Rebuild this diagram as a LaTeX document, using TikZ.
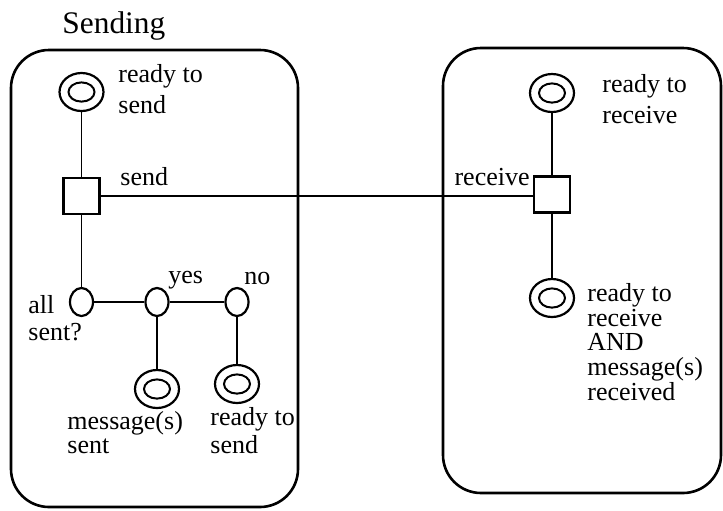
\documentclass[tikz,border=0pt]{standalone}
\usepackage{fontspec}
\setmainfont{Liberation Serif}
\usetikzlibrary{shapes.geometric,positioning}

\tikzset{
  statenode/.style={ellipse,draw,line width=1.1pt,inner sep=0pt,
    minimum width=22pt,minimum height=19pt,
    path picture={\draw[line width=1pt] (path picture bounding box.center) ellipse (6.5pt and 4.8pt);}},
  choice/.style={ellipse,draw,line width=1.1pt,inner sep=0pt,
    minimum width=11.5pt,minimum height=14pt},
  act/.style={rectangle,draw,line width=1.2pt,inner sep=0pt,minimum size=18pt,fill=white},
  lbl/.style={anchor=base west,inner sep=0pt,align=left,font=\fontsize{13}{15.5}\selectfont},
  arc/.style={line width=0.65pt},
  frame/.style={line width=1.3pt,rounded corners=19pt}
}

\begin{document}
\begin{tikzpicture}[x=0.5pt,y=-0.5pt]
\useasboundingbox (0,0) rectangle (723,510);

% the two sides
\draw[frame] (11,50) rectangle (298,507);
\draw[frame] (443,48) rectangle (721,493);
\node (title) [lbl,font=\fontsize{15.7}{18}\selectfont] at (62,33) {Sending};

% sending side
\node (rs1) [statenode] at (81.5,92) {};
\node (send) [act] at (81.5,196) {};
\node (d1) [choice] at (81.5,302) {};
\node (d2) [choice] at (157,302) {};
\node (d3) [choice] at (237,302) {};
\node (ms) [statenode] at (157,389) {};
\node (rs2) [statenode] at (237,384) {};

% receiving side
\node (rr1) [statenode] at (552,93) {};
\node (recv) [act] at (552,194.5) {};
\node (rr2) [statenode] at (552,298) {};

\draw[arc] (rs1) -- (send);
\draw[arc] (send) -- (d1);
\draw[arc] (d1) -- (d2) -- (d3);
\draw[arc] (d2) -- (ms);
\draw[arc] (d3) -- (rs2);
\draw[arc] (rr1) -- (recv);
\draw[arc] (recv) -- (rr2);
\draw[line width=1pt] (send.east) -- (send.east -| recv.west);

% labels (base = last line)
\node (lrs1) [lbl] at (118,113) {ready to\\send};
\node (lsend) [lbl] at (120,185) {send};
\node (ld1) [lbl,font=\fontsize{13}{13.5}\selectfont] at (28,340) {all\\sent?};
\node (lyes) [lbl] at (168,283) {yes};
\node (lno) [lbl] at (244,284) {no};
\node (lms) [lbl,font=\fontsize{13}{11.8}\selectfont] at (67,453) {message(s)\\sent};
\node (lrs2) [lbl,font=\fontsize{13}{14}\selectfont] at (210,453) {ready to\\send};
\node (lrr1) [lbl] at (602,123) {ready to\\receive};
\node (lrecv) [lbl,anchor=base east] at (530,185) {receive};
\node (lrr2) [lbl,font=\fontsize{13}{12.3}\selectfont] at (587,400) {ready to\\receive\\AND\\message(s)\\received};
\end{tikzpicture}
\end{document}
